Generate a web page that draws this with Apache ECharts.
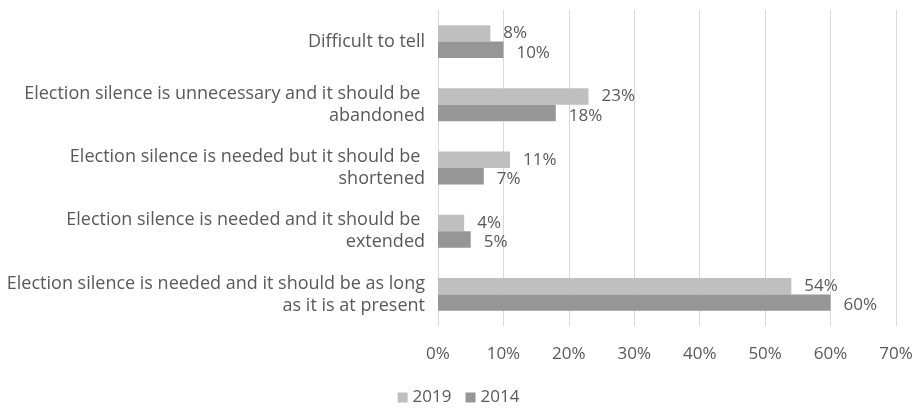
<!DOCTYPE html>
<html><head><meta charset="utf-8">
<script src="https://cdn.jsdelivr.net/npm/echarts@6/dist/echarts.min.js"></script>
<style>html,body{margin:0;padding:0;background:#fff}#c{width:917px;height:411px}</style>
</head><body><div id="c"></div>
<script>
const categories = [
  "Difficult to tell",
  "Election silence is unnecessary and it should be abandoned",
  "Election silence is needed but it should be shortened",
  "Election silence is needed and it should be extended",
  "Election silence is needed and it should be as long as it is at present"
];
const values2019 = [8, 23, 11, 4, 54];
const values2014 = [10, 18, 7, 5, 60];
const xTicks = [0, 10, 20, 30, 40, 50, 60, 70];

const font = "Open Sans";
const txt = "#595959";
const chart = echarts.init(document.getElementById('c'));
chart.setOption({
  animation: false,
  textStyle: {fontFamily: font},
  grid: {left: 436, right: 21, top: 10, bottom: 85, containLabel: false},
  legend: {
    bottom: 0, left: 'center', itemWidth: 10, itemHeight: 10, itemGap: 14,
    icon: 'rect',
    textStyle: {color: txt, fontSize: 17, fontFamily: font},
    data: ['2019', '2014']
  },
  xAxis: {
    type: 'value', min: 0, max: 70, interval: 10,
    axisLabel: {color: txt, fontSize: 17, margin: 20, formatter: v => xTicks.includes(v) ? v + '%' : ''},
    splitLine: {lineStyle: {color: '#D9D9D9', width: 1}},
    axisLine: {show: false}, axisTick: {show: false}
  },
  yAxis: {
    type: 'category', inverse: true, data: categories,
    axisLine: {show: true, lineStyle: {color: '#D9D9D9'}},
    axisTick: {show: false},
    axisLabel: {color: txt, fontSize: 18, margin: 13, width: 422, overflow: 'break', align: 'right', lineHeight: 22}
  },
  series: [
    {name: '2019', type: 'bar', data: values2019, barGap: '0%', barCategoryGap: '48%',
     itemStyle: {color: '#BFBFBF'},
     label: {show: true, position: 'right', distance: 13, color: txt, fontSize: 17, formatter: '{c}%'}},
    {name: '2014', type: 'bar', data: values2014, barGap: '0%', barCategoryGap: '48%',
     itemStyle: {color: '#969696'},
     label: {show: true, position: 'right', distance: 13, color: txt, fontSize: 17, formatter: '{c}%', offset: [0, 3]}}
  ]
});
</script></body></html>
